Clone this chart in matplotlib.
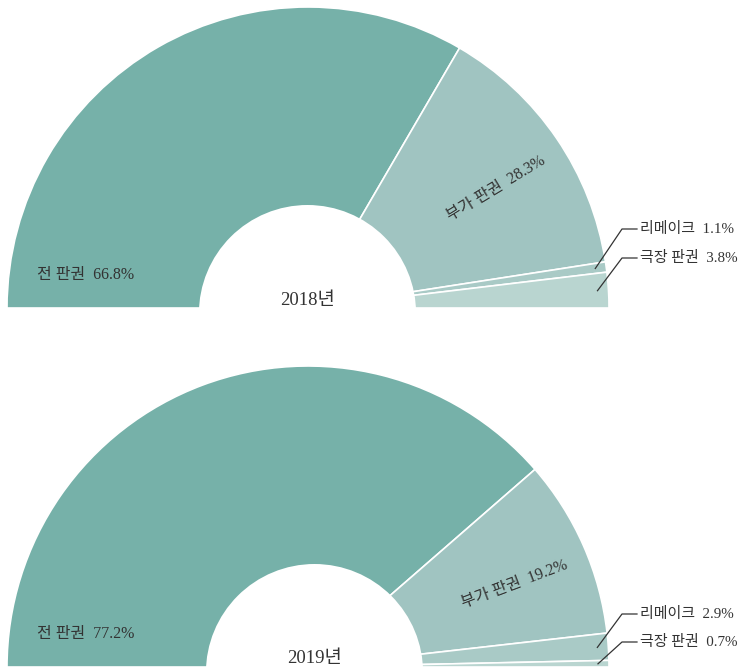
import numpy as np
import matplotlib
matplotlib.use("Agg")
import matplotlib.pyplot as plt
from matplotlib.patches import Wedge

# datos (porcentajes por tipo de derecho)
categorias = ["전 판권", "부가 판권", "리메이크", "극장 판권"]
anios = ["2018년", "2019년"]
valores_2018 = [66.8, 28.3, 1.1, 3.8]
valores_2019 = [77.2, 19.2, 2.9, 0.7]
colores = ["#76b1a9", "#a0c4c1", "#a9cac6", "#b9d5d0"]

FONT = ["Liberation Serif", "Noto Sans CJK KR"]
TXT = "#333333"

W, H = 742, 671
fig = plt.figure(figsize=(W / 100, H / 100), dpi=100)
ax = fig.add_axes([0, 0, 1, 1])

R_OUT = 301
R_HOLE = 108.6

# (centro del semicirculo, centro del hueco, y de las etiquetas pequeñas) en pixeles
paneles = [
    (valores_2018, (308, 308), (307.5, 313.6), [229, 258]),
    (valores_2019, (308, 667), (314.5, 672.6), [614, 642]),
]

for (vals, (cx, cy), (hx, hy), y_lab), anio in zip(paneles, anios):
    cy = H - cy
    hy = H - hy
    total = sum(vals)
    wedges, _ = ax.pie(
        vals + [total],
        colors=colores + ["white"],
        startangle=180,
        counterclock=False,
        radius=R_OUT,
        center=(cx, cy),
        wedgeprops=dict(edgecolor="white", linewidth=1.2),
    )
    wedges[-1].set_visible(False)

    # hueco central (solo la mitad superior)
    ax.add_patch(Wedge((hx, hy), R_HOLE, 0, 180, facecolor="white",
                       edgecolor="none", zorder=3))
    ax.text(hx, cy + 8, anio, ha="center", va="center", fontsize=13.5,
            family=FONT, color=TXT, zorder=5)

    # angulos medios de cada sector
    acum = np.cumsum([0] + vals)
    medios = [180 - (acum[i] + vals[i] / 2) * 180 / total for i in range(len(vals))]

    # 전 판권: horizontal, abajo a la izquierda
    a = np.deg2rad(172)
    ax.text(cx + 225 * np.cos(a), cy + 225 * np.sin(a) + 2,
            f"{categorias[0]}  {vals[0]}%", ha="center", va="center",
            fontsize=11.5, family=FONT, color=TXT, zorder=5)

    # 부가 판권: girado según el sector
    a = np.deg2rad(medios[1] - 2)
    ax.text(cx + 223 * np.cos(a), cy + 223 * np.sin(a),
            f"{categorias[1]}  {vals[1]}%", ha="center", va="center",
            rotation=medios[1] - 3, rotation_mode="anchor",
            fontsize=11.5, family=FONT, color=TXT, zorder=5)

    # sectores pequeños con línea guía
    for i, yl in zip([2, 3], y_lab):
        a = np.deg2rad(medios[i])
        x0, y0 = cx + 290 * np.cos(a), cy + 290 * np.sin(a)
        ax.plot([x0, 622, 637], [y0, H - yl, H - yl], color=TXT, lw=0.9, zorder=5)
        ax.text(640, H - yl, f"{categorias[i]}  {vals[i]}%", ha="left", va="center",
                fontsize=10.8, family=FONT, color=TXT, zorder=5)

ax.set_xlim(0, W)
ax.set_ylim(0, H)
ax.set_aspect("auto")
ax.axis("off")

fig.savefig("out.png", dpi=100, facecolor="white")
